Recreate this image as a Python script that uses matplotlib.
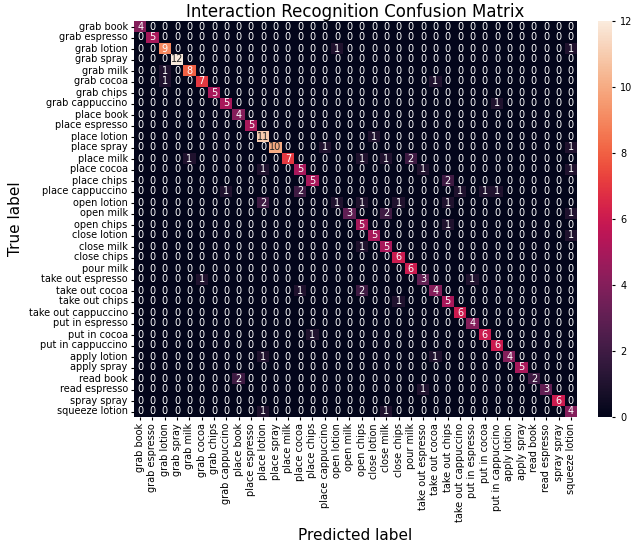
import numpy as np
import matplotlib
matplotlib.use("Agg")
import matplotlib.pyplot as plt
import seaborn as sns

labels = ["grab book", "grab espresso", "grab lotion", "grab spray", "grab milk",
          "grab cocoa", "grab chips", "grab cappuccino", "place book", "place espresso",
          "place lotion", "place spray", "place milk", "place cocoa", "place chips",
          "place cappuccino", "open lotion", "open milk", "open chips", "close lotion",
          "close milk", "close chips", "pour milk", "take out espresso", "take out cocoa",
          "take out chips", "take out cappuccino", "put in espresso", "put in cocoa",
          "put in cappuccino", "apply lotion", "apply spray", "read book", "read espresso",
          "spray spray", "squeeze lotion"]

# diagonal counts (correct predictions)
diag_counts = [4, 5, 9, 12, 8, 7, 5, 5, 4, 5, 11, 10, 7, 5, 5, 0, 0, 3, 5, 5,
               5, 6, 6, 3, 4, 5, 6, 4, 6, 6, 4, 5, 2, 3, 6, 4]

# off-diagonal confusions: (true_row, predicted_col, count)
off_diag = [
    (2, 16, 1), (2, 35, 1),
    (4, 2, 1),
    (5, 2, 1), (5, 24, 1),
    (7, 29, 1),
    (10, 19, 1),
    (11, 15, 1), (11, 35, 1),
    (12, 4, 1), (12, 18, 1), (12, 20, 1), (12, 22, 2),
    (13, 10, 1), (13, 23, 1), (13, 35, 1),
    (14, 25, 2),
    (15, 7, 1), (15, 13, 2), (15, 26, 1), (15, 28, 1), (15, 29, 1),
    (16, 10, 2), (16, 16, 1), (16, 18, 1), (16, 21, 1), (16, 25, 1),
    (17, 20, 2), (17, 35, 1),
    (18, 25, 1),
    (19, 35, 1),
    (20, 18, 1),
    (23, 5, 1), (23, 27, 1),
    (24, 13, 1), (24, 18, 2),
    (25, 21, 1),
    (28, 14, 1),
    (30, 10, 1), (30, 24, 1),
    (32, 8, 2),
    (33, 23, 1),
    (35, 10, 1), (35, 20, 1),
]

n = len(labels)
cm = np.zeros((n, n), dtype=int)
for i, v in enumerate(diag_counts):
    cm[i, i] += v
for r, c, v in off_diag:
    cm[r, c] += v

fs = 7.0
fig = plt.figure(figsize=(6.4, 5.45), dpi=100)
ax = fig.add_axes([134/640, 1-417/545, 443/640, 396/545])
cax = fig.add_axes([598/640, 1-417/545, 14/640, 396/545])

sns.heatmap(cm, annot=True, fmt="d", cmap="rocket", ax=ax, cbar_ax=cax,
            xticklabels=labels, yticklabels=labels, vmin=0, vmax=12,
            annot_kws={"fontsize": fs})

ax.tick_params(axis="both", labelsize=fs, length=2.5, pad=2)
ax.set_xticklabels(labels, rotation=90)
ax.set_yticklabels(labels, rotation=0)
ax.set_title("Interaction Recognition Confusion Matrix", fontsize=12, pad=3)
ax.set_xlabel("Predicted label", fontsize=11, labelpad=4)
ax.set_ylabel("True label", fontsize=11, labelpad=4)
cax.tick_params(labelsize=fs, length=2.5)
cax.set_yticks([0, 2, 4, 6, 8, 10, 12])

fig.savefig("out.png", dpi=100)
